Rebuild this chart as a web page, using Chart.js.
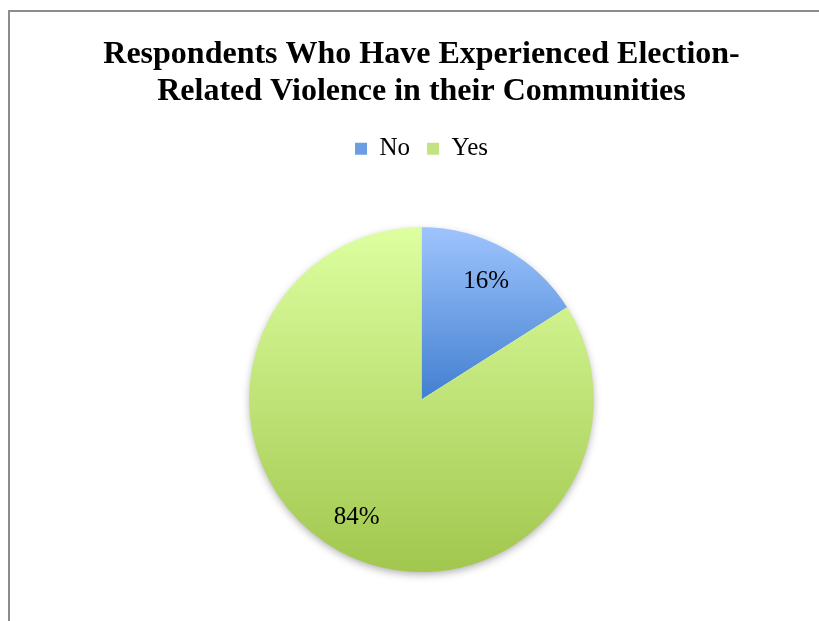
<!DOCTYPE html>
<html>
<head>
<meta charset="utf-8">
<script src="https://cdn.jsdelivr.net/npm/chart.js@4.4.1/dist/chart.umd.min.js"></script>
<style>
  html, body { margin: 0; padding: 0; background: #fff; overflow: hidden; }
  #frame {
    position: absolute; left: 8px; top: 10px;
    width: 900px; height: 700px;
    border-left: 2px solid #8c8c8c; border-top: 2px solid #8c8c8c;
  }
  #myChartViolence { position: absolute; left: 0; top: 0; }
</style>
</head>
<body>
<div id="frame"></div>
<canvas id="myChartViolence" width="819" height="621"></canvas>
<script>
const categories = ['No', 'Yes'];
const percentages = [16, 84];
const titleLines = ['Respondents Who Have Experienced Election-', 'Related Violence in their Communities'];

// top/bottom colours of each slice, plus a flat one for the legend swatch
const sliceGradients = [
  { from: '#9ec4fd', to: '#427fd0', swatch: '#6b9de2', span: 'half' },
  { from: '#ddffa0', to: '#a1c74e', swatch: '#c3e382', span: 'full' }
];

const serif = '"Liberation Serif", "Times New Roman", serif';

function sliceFill(context) {
  const chart = context.chart;
  const area = chart.chartArea;
  const g = sliceGradients[context.dataIndex];
  if (!area) return g.swatch;
  const bottom = g.span === 'half' ? (area.top + area.bottom) / 2 : area.bottom;
  const grad = chart.ctx.createLinearGradient(0, area.top, 0, bottom);
  grad.addColorStop(0, g.from);
  grad.addColorStop(1, g.to);
  return grad;
}

// soft shadow under the whole pie
const pieShadow = {
  id: 'pieShadow',
  beforeDatasetsDraw(chart) {
    const arc = chart.getDatasetMeta(0).data[0];
    if (!arc) return;
    const ctx = chart.ctx;
    ctx.save();
    ctx.shadowColor = 'rgba(0,0,0,0.35)';
    ctx.shadowBlur = 9;
    ctx.shadowOffsetY = 3;
    ctx.fillStyle = '#fff';
    ctx.beginPath();
    ctx.arc(arc.x, arc.y, arc.outerRadius - 1, 0, Math.PI * 2);
    ctx.fill();
    ctx.restore();
  }
};

// percentage text inside each slice
const sliceLabels = {
  id: 'sliceLabels',
  afterDatasetsDraw(chart) {
    const ctx = chart.ctx;
    const meta = chart.getDatasetMeta(0);
    ctx.save();
    ctx.font = '25px ' + serif;
    ctx.fillStyle = '#000';
    ctx.textAlign = 'center';
    ctx.textBaseline = 'middle';
    meta.data.forEach((arc, i) => {
      const mid = (arc.startAngle + arc.endAngle) / 2;
      const r = arc.outerRadius * 0.78;
      ctx.fillText(percentages[i] + '%', arc.x + Math.cos(mid) * r, arc.y + Math.sin(mid) * r);
    });
    ctx.restore();
  }
};

// extra room between the legend and the pie
const legendGap = {
  id: 'legendGap',
  beforeInit(chart) {
    const fit = chart.legend.fit;
    chart.legend.fit = function () {
      fit.bind(chart.legend)();
      this.height += 56;
    };
  }
};

const ctx = document.getElementById('myChartViolence');

new Chart(ctx, {
  type: 'pie',
  data: {
    labels: categories,
    datasets: [{
      data: percentages,
      backgroundColor: sliceFill,
      borderWidth: 0,
      hoverOffset: 0
    }]
  },
  options: {
    responsive: false,
    animation: false,
    events: [],
    layout: { padding: { left: 24, right: 0, top: 0, bottom: 49 } },
    plugins: {
      title: {
        display: true,
        text: titleLines,
        color: '#000',
        font: { family: serif, size: 32, weight: 'bold', lineHeight: 1.16 },
        padding: { top: 36, bottom: 9 }
      },
      legend: {
        position: 'top',
        labels: {
          color: '#000',
          font: { family: serif, size: 25 },
          boxWidth: 12,
          boxHeight: 12,
          padding: 17,
          generateLabels(chart) {
            const items = Chart.overrides.pie.plugins.legend.labels.generateLabels(chart);
            items.forEach((item, i) => {
              item.fillStyle = sliceGradients[i].swatch;
              item.strokeStyle = 'rgba(0,0,0,0)';
              item.lineWidth = 0;
            });
            return items;
          }
        }
      },
      tooltip: { enabled: false }
    }
  },
  plugins: [pieShadow, sliceLabels, legendGap]
});
</script>
</body>
</html>
